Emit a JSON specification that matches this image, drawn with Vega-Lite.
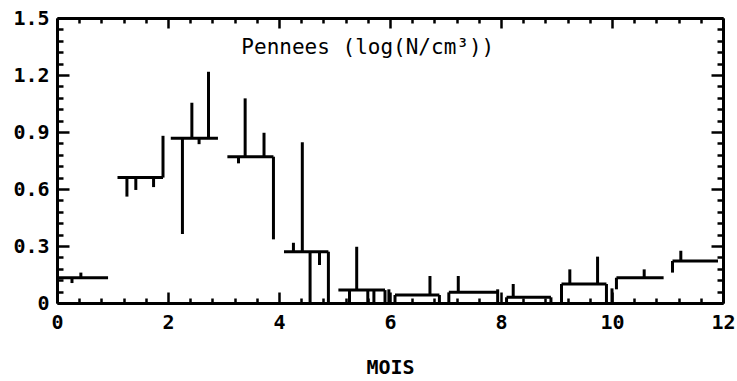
{
  "$schema": "https://vega.github.io/schema/vega-lite/v6.json",
  "width": 666,
  "height": 285,
  "autosize": "none",
  "padding": {"left": 57, "top": 18, "right": 14, "bottom": 78},
  "background": "white",
  "config": {
    "view": {"stroke": null},
    "axis": {
      "grid": false,
      "domainColor": "black",
      "domainWidth": 3,
      "tickColor": "black",
      "tickWidth": 2.5
    }
  },
  "datasets": {
    "horiz": [
      {"x0": 0.03, "x1": 0.92, "v0": 0.133, "v1": 0.133},
      {"x0": 1.09, "x1": 1.91, "v0": 0.66, "v1": 0.66},
      {"x0": 2.05, "x1": 2.9, "v0": 0.867, "v1": 0.867},
      {"x0": 3.07, "x1": 3.9, "v0": 0.77, "v1": 0.77},
      {"x0": 4.09, "x1": 4.89, "v0": 0.27, "v1": 0.27},
      {"x0": 5.07, "x1": 5.91, "v0": 0.068, "v1": 0.068},
      {"x0": 6.09, "x1": 6.89, "v0": 0.042, "v1": 0.042},
      {"x0": 7.06, "x1": 7.94, "v0": 0.056, "v1": 0.056},
      {"x0": 8.1, "x1": 8.9, "v0": 0.03, "v1": 0.03},
      {"x0": 9.09, "x1": 9.9, "v0": 0.1, "v1": 0.1},
      {"x0": 10.08, "x1": 10.93, "v0": 0.133, "v1": 0.133},
      {"x0": 11.09, "x1": 11.91, "v0": 0.221, "v1": 0.221}
    ],
    "vert": [
      {"x0": 0.27, "x1": 0.27, "v0": 0.133, "v1": 0.105},
      {"x0": 0.43, "x1": 0.43, "v0": 0.133, "v1": 0.16},
      {"x0": 1.91, "x1": 1.91, "v0": 0.66, "v1": 0.88},
      {"x0": 1.26, "x1": 1.26, "v0": 0.66, "v1": 0.56},
      {"x0": 1.42, "x1": 1.42, "v0": 0.66, "v1": 0.595},
      {"x0": 1.74, "x1": 1.74, "v0": 0.66, "v1": 0.61},
      {"x0": 2.26, "x1": 2.26, "v0": 0.867, "v1": 0.363},
      {"x0": 2.43, "x1": 2.43, "v0": 0.867, "v1": 1.054},
      {"x0": 2.56, "x1": 2.56, "v0": 0.867, "v1": 0.836},
      {"x0": 2.73, "x1": 2.73, "v0": 0.867, "v1": 1.217},
      {"x0": 3.9, "x1": 3.9, "v0": 0.77, "v1": 0.335},
      {"x0": 3.27, "x1": 3.27, "v0": 0.77, "v1": 0.735},
      {"x0": 3.39, "x1": 3.39, "v0": 0.77, "v1": 1.077},
      {"x0": 3.73, "x1": 3.73, "v0": 0.77, "v1": 0.896},
      {"x0": 4.26, "x1": 4.26, "v0": 0.27, "v1": 0.317},
      {"x0": 4.42, "x1": 4.42, "v0": 0.27, "v1": 0.846},
      {"x0": 4.56, "x1": 4.56, "v0": 0.27, "v1": 0},
      {"x0": 4.73, "x1": 4.73, "v0": 0.27, "v1": 0.2},
      {"x0": 4.89, "x1": 4.89, "v0": 0.27, "v1": 0},
      {"x0": 5.27, "x1": 5.27, "v0": 0.068, "v1": 0},
      {"x0": 5.4, "x1": 5.4, "v0": 0.068, "v1": 0.296},
      {"x0": 5.6, "x1": 5.6, "v0": 0.068, "v1": 0},
      {"x0": 5.71, "x1": 5.71, "v0": 0.068, "v1": 0},
      {"x0": 5.91, "x1": 5.91, "v0": 0.068, "v1": 0},
      {"x0": 5.98, "x1": 5.98, "v0": 0, "v1": 0.072},
      {"x0": 6.09, "x1": 6.09, "v0": 0.042, "v1": 0},
      {"x0": 6.89, "x1": 6.89, "v0": 0.042, "v1": 0},
      {"x0": 6.72, "x1": 6.72, "v0": 0.042, "v1": 0.142},
      {"x0": 7.06, "x1": 7.06, "v0": 0.056, "v1": 0},
      {"x0": 7.23, "x1": 7.23, "v0": 0.056, "v1": 0.142},
      {"x0": 7.94, "x1": 7.94, "v0": 0, "v1": 0.072},
      {"x0": 8.1, "x1": 8.1, "v0": 0.03, "v1": 0},
      {"x0": 8.9, "x1": 8.9, "v0": 0.03, "v1": 0},
      {"x0": 8.22, "x1": 8.22, "v0": 0.03, "v1": 0.1},
      {"x0": 9.09, "x1": 9.09, "v0": 0.1, "v1": 0},
      {"x0": 9.9, "x1": 9.9, "v0": 0.1, "v1": 0},
      {"x0": 9.24, "x1": 9.24, "v0": 0.1, "v1": 0.177},
      {"x0": 9.74, "x1": 9.74, "v0": 0.1, "v1": 0.244},
      {"x0": 10.0, "x1": 10.0, "v0": 0, "v1": 0.077},
      {"x0": 10.08, "x1": 10.08, "v0": 0.133, "v1": 0.072},
      {"x0": 10.58, "x1": 10.58, "v0": 0.133, "v1": 0.177},
      {"x0": 11.09, "x1": 11.09, "v0": 0.221, "v1": 0.16},
      {"x0": 11.24, "x1": 11.24, "v0": 0.221, "v1": 0.275}
    ],
    "label": [
      {"x": 5.6, "y": 1.34, "text": "Pennees (log(N/cm³))"}
    ]
  },
  "resolve": {"axis": {"x": "independent", "y": "independent"}},
  "layer": [
    {
      "data": {"name": "horiz"},
      "mark": {"type": "rule", "color": "black", "strokeWidth": 3},
      "encoding": {
        "x": {
          "field": "x0", "type": "quantitative",
          "scale": {"domain": [0, 12], "nice": false, "zero": false},
          "axis": {
            "orient": "bottom",
            "title": null,
            "labels": false,
            "values": [0,0.4,0.8,1.2,1.6,2,2.4,2.8,3.2,3.6,4,4.4,4.8,5.2,5.6,6,6.4,6.8,7.2,7.6,8,8.4,8.8,9.2,9.6,10,10.4,10.8,11.2,11.6,12],
            "tickSize": {"condition": {"test": "datum.value % 2 === 0", "value": -11}, "value": -5}
          }
        },
        "x2": {"field": "x1"},
        "y": {
          "field": "v0", "type": "quantitative",
          "scale": {"domain": [0, 1.5], "nice": false},
          "axis": {
            "orient": "left",
            "title": null,
            "labels": false,
            "values": [0,0.06,0.12,0.18,0.24,0.3,0.36,0.42,0.48,0.54,0.6,0.66,0.72,0.78,0.84,0.9,0.96,1.02,1.08,1.14,1.2,1.26,1.32,1.38,1.44,1.5],
            "tickSize": {"condition": {"test": "abs(datum.value*10/3 - round(datum.value*10/3)) < 0.001", "value": -12}, "value": -6}
          }
        },
        "y2": {"field": "v1"}
      }
    },
    {
      "data": {"name": "vert"},
      "mark": {"type": "rule", "color": "black", "strokeWidth": 3},
      "encoding": {
        "x": {
          "field": "x0", "type": "quantitative",
          "scale": {"domain": [0, 12], "nice": false, "zero": false},
          "axis": {
            "orient": "top",
            "title": null,
            "labels": false,
            "values": [0,0.4,0.8,1.2,1.6,2,2.4,2.8,3.2,3.6,4,4.4,4.8,5.2,5.6,6,6.4,6.8,7.2,7.6,8,8.4,8.8,9.2,9.6,10,10.4,10.8,11.2,11.6,12],
            "tickSize": {"condition": {"test": "datum.value % 2 === 0", "value": -10}, "value": -5}
          }
        },
        "x2": {"field": "x1"},
        "y": {
          "field": "v0", "type": "quantitative",
          "scale": {"domain": [0, 1.5], "nice": false},
          "axis": {
            "orient": "right",
            "title": null,
            "labels": false,
            "values": [0,0.06,0.12,0.18,0.24,0.3,0.36,0.42,0.48,0.54,0.6,0.66,0.72,0.78,0.84,0.9,0.96,1.02,1.08,1.14,1.2,1.26,1.32,1.38,1.44,1.5],
            "tickSize": {"condition": {"test": "abs(datum.value*10/3 - round(datum.value*10/3)) < 0.001", "value": -12}, "value": -6}
          }
        },
        "y2": {"field": "v1"}
      }
    },
    {
      "data": {"name": "label"},
      "mark": {"type": "text", "font": "DejaVu Sans Mono", "fontSize": 21, "color": "black", "align": "center", "baseline": "middle"},
      "encoding": {
        "x": {
          "field": "x", "type": "quantitative",
          "scale": {"domain": [0, 12], "nice": false, "zero": false},
          "axis": {
            "orient": "bottom",
            "title": "MOIS",
            "titleFont": "DejaVu Sans Mono",
            "titleFontWeight": "bold",
            "titleFontSize": 20,
            "titleColor": "black",
            "titlePadding": 25,
            "values": [0, 2, 4, 6, 8, 10, 12],
            "format": "d",
            "ticks": false,
            "domain": false,
            "labelFont": "DejaVu Sans Mono",
            "labelFontWeight": "bold",
            "labelFontSize": 20,
            "labelColor": "black",
            "labelPadding": 9,
            "labelFlush": false,
            "labelOverlap": false
          }
        },
        "y": {
          "field": "y", "type": "quantitative",
          "scale": {"domain": [0, 1.5], "nice": false},
          "axis": {
            "orient": "left",
            "title": null,
            "values": [0, 0.3, 0.6, 0.9, 1.2, 1.5],
            "labelExpr": "datum.value === 0 ? '0' : format(datum.value, '.1f')",
            "ticks": false,
            "domain": false,
            "labelFont": "DejaVu Sans Mono",
            "labelFontWeight": "bold",
            "labelFontSize": 20,
            "labelColor": "black",
            "labelPadding": 8,
            "labelFlush": false,
            "labelOverlap": false
          }
        },
        "text": {"field": "text"}
      }
    }
  ]
}
